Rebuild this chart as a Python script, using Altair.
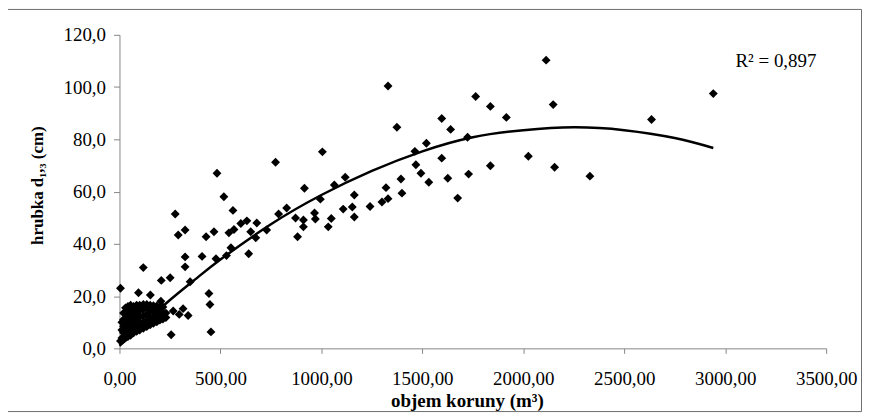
import altair as alt
import pandas as pd

# --- dense cluster of small crowns (read from the black blob near the origin)
cluster_x = [5,
             12, 12, 12,
             20, 20, 20, 20, 20,
             30, 30, 30, 30, 30, 30,
             42, 42, 42, 42, 42, 42,
             55, 55, 55, 55, 55, 55,
             70, 70, 70, 70, 70,
             85, 85, 85, 85, 85,
             100, 100, 100, 100, 100,
             118, 118, 118, 118, 118,
             135, 135, 135, 135, 135,
             152, 152, 152, 152,
             168, 168, 168, 168,
             185, 185, 185, 185,
             200, 200, 200,
             215, 215, 215,
             230, 230, 205]
cluster_y = [2.8,
             4.0, 7.0, 10.0,
             3.5, 6.0, 8.5, 11.0, 13.5,
             4.0, 6.5, 9.0, 11.5, 14.0, 15.5,
             4.5, 7.0, 9.5, 12.0, 14.5, 16.0,
             5.0, 7.5, 10.0, 12.5, 15.0, 16.5,
             6.0, 8.5, 11.0, 13.5, 16.0,
             6.5, 9.0, 11.5, 14.0, 16.5,
             7.0, 9.5, 12.0, 14.5, 16.5,
             7.7, 10.0, 12.5, 15.0, 16.8,
             8.3, 10.5, 13.0, 15.5, 16.8,
             9.0, 11.5, 14.0, 16.5,
             9.6, 12.0, 14.5, 16.3,
             10.2, 12.5, 15.0, 16.2,
             10.8, 13.0, 15.5,
             11.2, 13.5, 15.8,
             11.8, 13.5, 18.0]

# --- individually visible points
scatter_x = [5, 94, 118, 153, 207, 251, 256, 266, 296, 315, 340, 350, 443, 448, 453,
             276, 291, 325, 325, 325, 409, 429, 468, 478, 483, 517, 542, 530, 552, 562,
             567, 601, 631, 640, 650, 675, 680, 729, 773, 788, 828, 872, 882, 911, 911,
             916, 966, 970, 995, 1005, 1034, 1049, 1064, 1108, 1118, 1153, 1163, 1163,
             1241, 1300, 1320, 1330, 1330, 1374, 1394, 1399, 1463, 1468, 1493, 1520,
             1532, 1596, 1596, 1626, 1640, 1675, 1724, 1729, 1764, 1837, 1837, 1916,
             2025, 2113, 2148, 2155, 2330, 2635, 2941]
scatter_y = [23.0, 21.3, 30.9, 20.4, 26.0, 27.0, 5.2, 14.3, 13.0, 15.2, 12.6, 25.5, 21.0, 16.8, 6.3,
             51.4, 43.4, 45.3, 35.0, 31.2, 35.2, 42.7, 44.6, 34.3, 67.0, 58.0, 44.2, 35.5, 38.5, 52.8,
             45.5, 47.8, 48.8, 36.2, 44.6, 42.3, 48.0, 45.3, 71.2, 51.4, 53.7, 49.9, 42.7, 49.1, 46.5,
             61.3, 51.8, 49.5, 57.1, 75.2, 46.5, 49.7, 62.5, 53.3, 65.5, 54.1, 58.7, 50.3,
             54.3, 56.0, 61.5, 57.3, 100.4, 84.6, 64.8, 59.4, 75.4, 70.3, 67.0, 78.5,
             63.6, 88.0, 72.8, 65.1, 83.8, 57.5, 80.8, 66.7, 96.4, 92.6, 69.9, 88.4,
             73.5, 110.3, 93.3, 69.3, 65.9, 87.6, 97.5]

# --- polynomial trend line
trend_x = [0, 125, 250, 375, 500, 750, 1000, 1250, 1500, 1750, 2000, 2250, 2500, 2750, 2941]
trend_y = [1.0, 9.7, 18.5, 26.4, 34.0, 47.5, 58.7, 67.9, 75.4, 80.8, 83.5, 84.6, 83.5, 80.5, 76.7]

x_ticks = [0, 500, 1000, 1500, 2000, 2500, 3000, 3500]
y_ticks = [0, 20, 40, 60, 80, 100, 120]

x_title = "objem koruny (m³)"
y_title = "hrubka d₁,₃ (cm)"
r2_label = ["R² = 0,897"]

points = pd.DataFrame({"objem": cluster_x + scatter_x,
                       "hrubka": cluster_y + scatter_y})
trend_df = pd.DataFrame({"objem": trend_x, "hrubka": trend_y})

SERIF = "Liberation Serif"
AX = "#868686"

x_enc = alt.X("objem:Q",
              scale=alt.Scale(domain=[0, 3500], nice=False),
              axis=alt.Axis(values=x_ticks,
                            labelExpr="replace(format(datum.value, '.2f'), '.', ',')",
                            title=x_title, labelPadding=16, titlePadding=3,
                            titleX=349, titleFontSize=19,
                            tickSize=5, labelFlush=False))
y_enc = alt.Y("hrubka:Q",
              scale=alt.Scale(domain=[0, 120], nice=False),
              axis=alt.Axis(values=y_ticks,
                            labelExpr="replace(format(datum.value, '.1f'), '.', ',')",
                            title=y_title, labelPadding=8, titlePadding=17,
                            titleY=151, titleFontSize=17,
                            tickSize=6, labelFlush=False))

frame = alt.Chart(pd.DataFrame({"k": [0]})).mark_rect(
    fillOpacity=0, stroke="#6e6e6e", strokeWidth=1
).encode(x=alt.value(-112.5), x2=alt.value(745.5),
         y=alt.value(-25.5), y2=alt.value(378.5))

dots = alt.Chart(points).mark_point(
    shape="diamond", filled=True, color="black", size=80, opacity=1
).encode(x=x_enc, y=y_enc)

trend = alt.Chart(trend_df).mark_line(
    color="black", strokeWidth=2.5, interpolate="natural"
).encode(x="objem:Q", y="hrubka:Q")

r2 = alt.Chart(pd.DataFrame({"objem": [3051], "hrubka": [107.8], "label": r2_label})).mark_text(
    align="left", baseline="alphabetic", font=SERIF, fontSize=19, color="black"
).encode(x="objem:Q", y="hrubka:Q", text="label:N")

chart = alt.layer(frame, dots, trend, r2).properties(
    width=710, height=315,
    autosize=alt.AutoSizeParams(type="none"),
    padding={"left": 112, "top": 26, "right": 36, "bottom": 64},
    background="white",
).configure_view(strokeWidth=0).configure_axis(
    grid=False, domainColor=AX, tickColor=AX, domainWidth=1, tickWidth=1,
    labelFont=SERIF, labelFontSize=19, labelColor="black",
    titleFont=SERIF, titleFontWeight="bold", titleColor="black",
)

chart.save("out.html", embed_options={"renderer": "svg", "actions": False})
